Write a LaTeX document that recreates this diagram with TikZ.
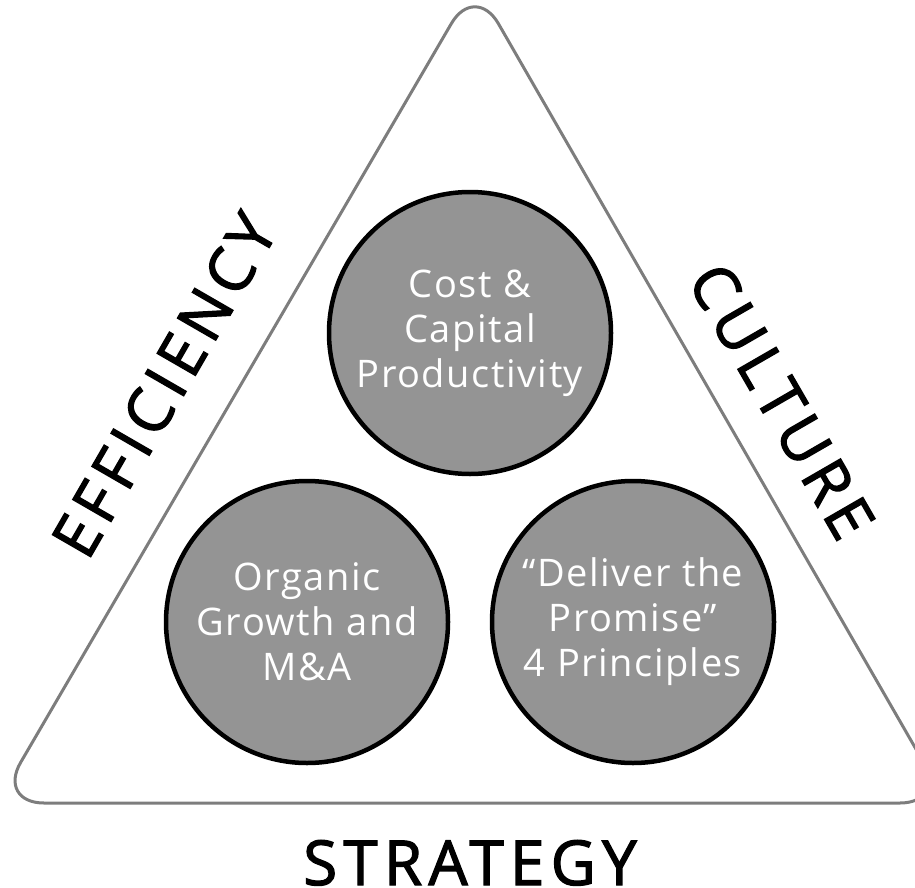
\documentclass[tikz,border=0pt]{standalone}
\usepackage{fontspec}
\setmainfont{Open Sans}
\newfontfamily\labelfont[FakeBold=2,LetterSpace=10]{Open Sans}
\newfontfamily\discfont[LetterSpace=4]{Open Sans}
\definecolor{edgegray}{RGB}{125,125,125}
\definecolor{discgray}{RGB}{148,148,148}
\begin{document}
\begin{tikzpicture}[x=1pt,y=-1pt,
  disc/.style={circle, draw=black, line width=4.5pt, fill=discgray,
    minimum size=282pt, inner sep=0pt, text=white, align=center,
    font=\discfont\fontsize{38}{45}\selectfont},
  sidelabel/.style={font=\labelfont\fontsize{62}{62}\selectfont,
    inner sep=0pt, text depth=0pt}]
  \useasboundingbox (0,0) rectangle (915,888);

  % rounded outer triangle, its right corner runs past the page edge
  \begin{scope}
    \clip (0,0) rectangle (915,888);
    \coordinate (bl) at (-3,803);
    \coordinate (br) at (947,803);
    \coordinate (top) at (475,-17);
    \draw[edgegray, line width=3pt, rounded corners=47pt]
      (bl) -- (br) -- (top) -- cycle;
  \end{scope}

  % the three discs
  \node[disc] (cost) at (470,333) {Cost \&\\Capital\\Productivity};
  \node[disc] (growth) at (307,622) {Organic\\Growth and\\M\&A};
  \node[disc] (promise) at (633,622) {“Deliver the\\Promise”\\4 Principles};

  % labels along the sides
  \node[sidelabel, rotate=60] (efficiency) at (164,385) {EFFICIENCY};
  \node[sidelabel, rotate=-60] (culture) at (782,401) {CULTURE};
  \node[sidelabel, anchor=base] (strategy) at (470,885) {STRATEGY};
\end{tikzpicture}
\end{document}
